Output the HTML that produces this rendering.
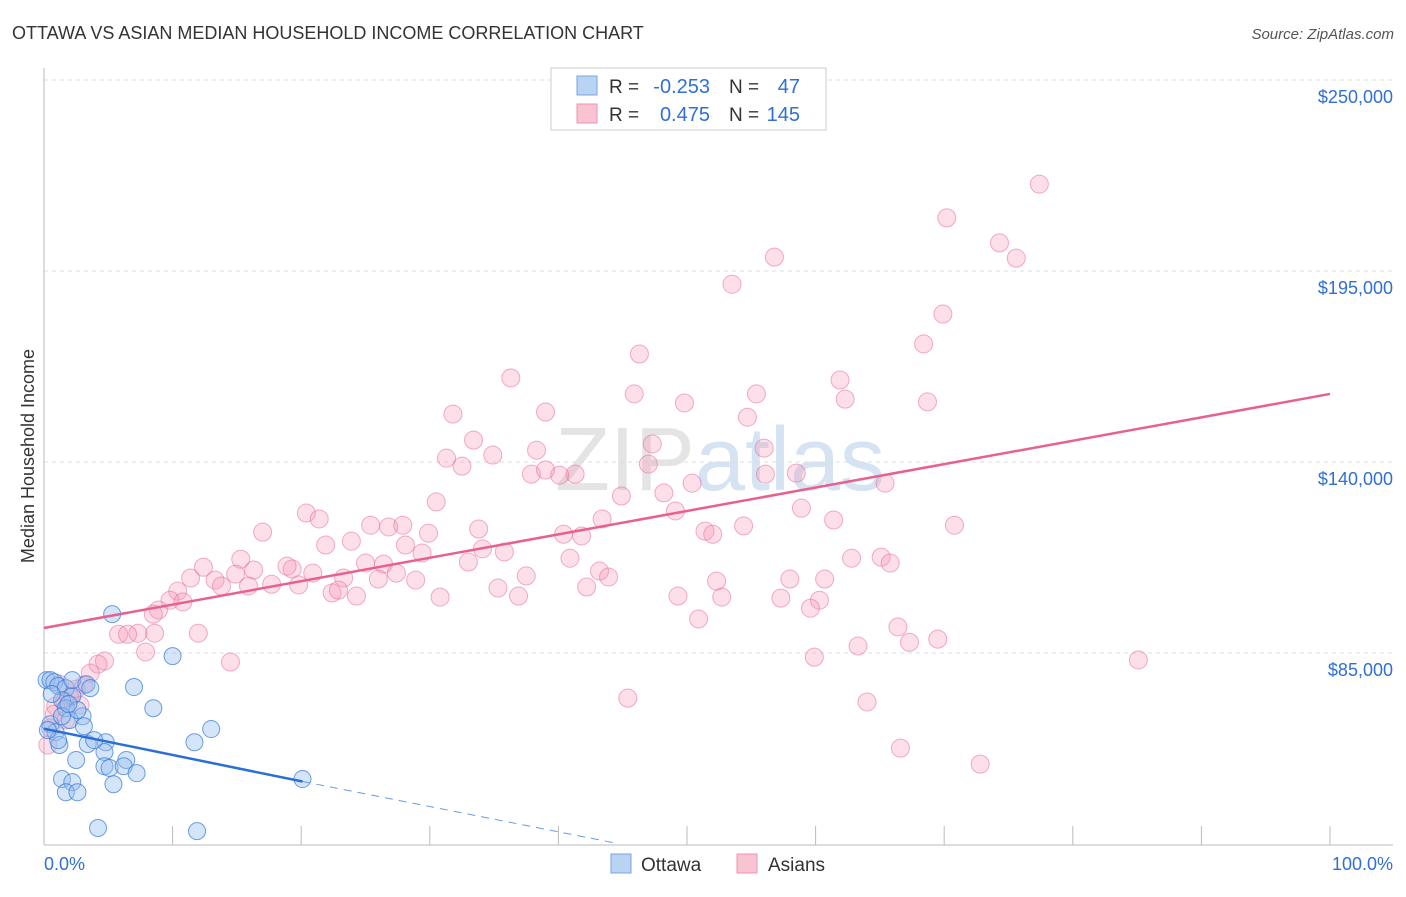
<!DOCTYPE html>
<html><head><meta charset="utf-8"><style>
body{margin:0;background:#fff;font-family:"Liberation Sans",sans-serif}
svg text{font-family:"Liberation Sans",sans-serif}
</style></head><body>
<svg width="1406" height="892" id="c">
<text x="12" y="39" font-size="18" fill="#333">OTTAWA VS ASIAN MEDIAN HOUSEHOLD INCOME CORRELATION CHART</text>
<text x="1394" y="39" font-size="15" fill="#555" font-style="italic" text-anchor="end">Source: ZipAtlas.com</text>
<text x="34" y="456" font-size="18" fill="#333" text-anchor="middle" transform="rotate(-90 34 456)">Median Household Income</text>
<text x="720" y="490" font-size="90" fill="#e4e4e4" text-anchor="middle" font-family="Liberation Serif">ZIP<tspan fill="#d5e3f3" font-family="Liberation Sans">atlas</tspan></text>
<g id="grid"></g><g id="pts"></g><g id="lines"></g>
<g>
<rect x="551" y="68" width="275" height="62" fill="#fff" stroke="#ccc"/>
<rect x="577" y="76" width="20" height="19" fill="#b9d3f3" stroke="#7aa6e0"/>
<rect x="577" y="104" width="20" height="19" fill="#f9c3d2" stroke="#ec93ad"/>
<text x="609" y="93" font-size="19" fill="#333">R =</text>
<text x="710" y="93" font-size="20" fill="#2f6fd6" text-anchor="end">-0.253</text>
<text x="729" y="93" font-size="19" fill="#333">N =</text>
<text x="800" y="93" font-size="20" fill="#2f6fd6" text-anchor="end">47</text>
<text x="609" y="121" font-size="19" fill="#333">R =</text>
<text x="710" y="121" font-size="20" fill="#2f6fd6" text-anchor="end">0.475</text>
<text x="729" y="121" font-size="19" fill="#333">N =</text>
<text x="800" y="121" font-size="20" fill="#2f6fd6" text-anchor="end">145</text>
</g>
<g>
<rect x="611" y="854" width="20" height="19" fill="#b9d3f3" stroke="#7aa6e0"/>
<text x="641" y="871" font-size="19" fill="#333">Ottawa</text>
<rect x="737" y="854" width="20" height="19" fill="#f9c3d2" stroke="#ec93ad"/>
<text x="768" y="871" font-size="19" fill="#333">Asians</text>
</g>
<text x="44" y="870" font-size="18" fill="#2f6fd6">0.0%</text>
<text x="1393" y="870" font-size="18" fill="#2f6fd6" text-anchor="end">100.0%</text>
</svg>
<script>
const yTicks=[250000,195000,140000,85000];
const yTickLabels=["$250,000","$195,000","$140,000","$85,000"];
const xTicks=[0,10,20,30,40,50,60,70,80,90,100];
const asianX=[77.4,70.2,74.3,75.6,56.8,53.5,69.9,68.4,46.3,36.3,61.9,55.4,45.9,62.3,49.8,68.7,31.8,54.7,39.0,33.4,47.3,38.3,34.9,56.0,31.3,32.5,47.0,37.9,39.0,41.3,40.1,50.4,56.1,58.5,65.4,48.2,44.9,30.5,20.4,17.0,21.4,58.9,43.4,49.1,25.4,26.8,27.9,29.9,33.8,40.4,41.8,51.4,52.0,54.4,61.4,70.8,21.9,23.9,28.1,29.4,33.0,34.1,35.8,40.9,62.8,65.1,65.8,15.3,12.4,19.3,20.9,25.0,26.4,27.4,23.3,14.9,16.3,17.7,18.9,13.3,15.9,19.8,26.0,28.9,37.5,43.2,43.9,52.3,58.0,60.7,11.4,10.4,9.8,8.9,8.5,10.8,13.8,22.4,22.9,24.3,30.8,35.3,36.9,42.2,49.3,52.7,57.3,60.3,59.6,50.9,66.4,67.3,69.5,63.3,85.1,59.9,12.0,8.6,7.3,5.8,6.5,7.9,4.7,4.2,14.5,3.6,3.1,2.5,2.0,1.6,0.9,0.8,0.5,0.3,45.4,64.0,66.6,72.8,1.2,2.8,1.7];
const asianY=[220.0,210.3,203.1,198.7,199.0,191.2,182.6,174.0,171.1,164.2,163.6,159.6,159.6,158.1,157.0,157.3,153.8,152.9,154.4,146.3,145.2,143.4,142.0,144.0,141.1,138.8,139.4,136.5,137.7,136.5,136.2,133.9,136.5,136.8,133.9,131.1,130.2,128.5,125.3,119.8,123.6,126.7,123.6,125.9,121.8,121.3,121.8,119.5,120.7,119.2,118.7,120.1,119.2,121.6,123.3,121.8,116.1,117.2,116.1,113.8,111.2,115.0,114.1,112.3,112.3,112.6,110.9,112.0,109.7,109.2,108.0,110.9,110.6,108.0,106.6,107.7,108.9,104.8,110.0,106.0,104.3,104.6,106.3,106.0,107.2,108.6,106.9,105.7,106.3,106.3,106.6,102.8,100.2,97.4,96.2,99.7,104.3,102.3,103.1,101.4,101.1,103.7,101.4,104.0,101.4,101.1,100.8,100.2,97.9,94.8,92.5,88.1,89.0,87.0,83.0,83.8,90.7,90.7,90.7,90.4,90.4,85.3,82.7,81.8,82.4,79.2,75.8,74.6,72.3,71.2,69.7,67.4,63.4,58.5,72.0,70.9,57.6,53.0,76.0,70.0,65.7];
const ottawaX=[5.3,10.0,7.0,8.5,13.0,11.7,0.2,0.5,0.8,1.1,1.7,2.2,1.4,1.7,3.0,2.0,3.1,0.5,0.9,1.2,3.4,4.8,4.7,6.4,4.7,5.1,6.2,7.2,1.4,2.2,1.7,2.6,5.4,4.2,11.9,20.1,2.2,3.3,1.1,3.9,2.6,3.6,0.6,0.3,1.4,1.9,2.5];
const ottawaY=[96.2,84.1,75.2,69.1,63.1,59.3,77.2,77.2,76.6,75.5,74.9,72.6,71.4,69.1,66.8,65.7,63.9,64.5,62.2,58.5,58.8,59.3,56.5,54.2,52.4,51.9,52.4,50.4,48.7,47.8,44.9,44.9,47.2,34.6,33.7,48.7,77.2,76.0,59.9,59.9,68.6,74.9,73.2,62.8,66.8,70.3,54.2];
const asianTrend=[0,92.2,100,159.6];
const ottawaTrend=[0,63.2,20.1,48.0,44.4,30.3];
const X=p=>44+p*12.86, Y=v=>80+(250-v)*191/55;
const NS="http://www.w3.org/2000/svg";
function mk(t,a,p){const e=document.createElementNS(NS,t);for(const k in a)e.setAttribute(k,a[k]);p.appendChild(e);return e;}
const grid=document.getElementById('grid');
yTicks.forEach((v,i)=>{const y=Y(v/1000);
const l=mk('line',{x1:44,x2:1393,y1:y,y2:y,stroke:'#ddd','stroke-dasharray':'4 4'},grid);


const t=mk('text',{x:1393,y:y+23,'font-size':18,fill:'#2f6fd6','text-anchor':'end'},grid);t.textContent=yTickLabels[i];

});
const ax=mk('line',{x1:44,x2:1393,y1:845,y2:845,stroke:'#bbb'},grid);


const ay=mk('line',{x1:44,x2:44,y1:68,y2:845,stroke:'#bbb'},grid);


xTicks.forEach(p=>{const t=mk('line',{x1:X(p),x2:X(p),y1:826,y2:845,stroke:'#bbb'},grid);

});
const pts=document.getElementById('pts');
asianX.forEach((p,i)=>{const c=mk('circle',{cx:X(p),cy:Y(asianY[i]),r:9,fill:'rgba(244,150,180,0.3)',stroke:'rgba(232,110,150,0.55)'},pts);

});
ottawaX.forEach((p,i)=>{const c=mk('circle',{cx:X(p),cy:Y(ottawaY[i]),r:8.5,fill:'rgba(150,190,240,0.4)',stroke:'rgba(50,120,215,0.7)'},pts);

});
const L=document.getElementById('lines');
const a=mk('line',{x1:X(asianTrend[0]),y1:Y(asianTrend[1]),x2:X(asianTrend[2]),y2:Y(asianTrend[3]),stroke:'#e8608e','stroke-width':2.5},L);


const o=mk('line',{x1:X(ottawaTrend[0]),y1:Y(ottawaTrend[1]),x2:X(ottawaTrend[2]),y2:Y(ottawaTrend[3]),stroke:'#2a6fd6','stroke-width':2.5},L);


const od=mk('line',{x1:X(ottawaTrend[2]),y1:Y(ottawaTrend[3]),x2:X(ottawaTrend[4]),y2:Y(ottawaTrend[5]),stroke:'#6a9ae0','stroke-width':1,'stroke-dasharray':'8 6'},L);


</script>
</body></html>
